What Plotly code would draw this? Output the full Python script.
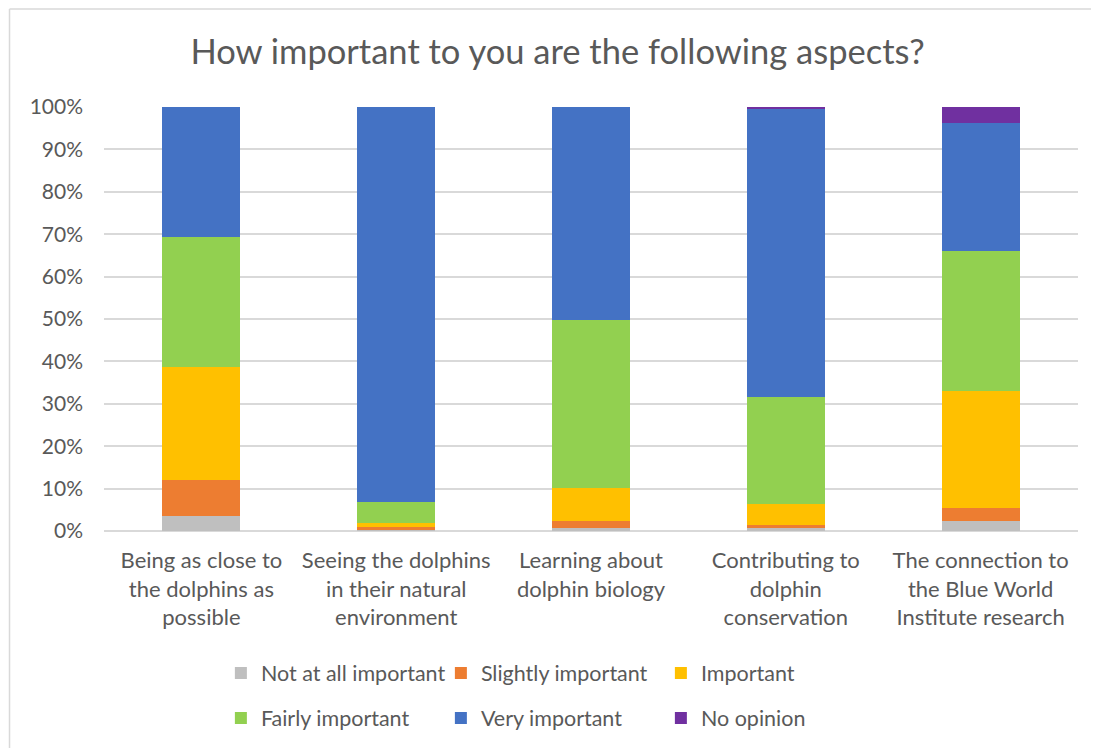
import plotly.graph_objects as go

categories = [
    "Being as close to<br>the dolphins as<br>possible",
    "Seeing the dolphins<br>in their natural<br>environment",
    "Learning about<br>dolphin biology",
    "Contributing to<br>dolphin<br>conservation",
    "The connection to<br>the Blue World<br>Institute research",
]

# shares in percent
not_at_all = [3.5, 0.2, 0.6, 0.7, 2.4]
slightly = [8.6, 0.8, 1.8, 0.8, 3.0]
important = [26.6, 1.0, 7.8, 4.9, 27.6]
fairly = [30.6, 4.8, 39.6, 25.2, 33.0]
very = [30.7, 93.2, 50.2, 68.0, 30.2]
no_opinion = [0.0, 0.0, 0.0, 0.4, 3.8]

series = [
    ("Not at all important", not_at_all, "#BFBFBF", "legend"),
    ("Slightly important", slightly, "#ED7D31", "legend"),
    ("Important", important, "#FFC000", "legend"),
    ("Fairly important", fairly, "#92D050", "legend2"),
    ("Very important", very, "#4472C4", "legend2"),
    ("No opinion", no_opinion, "#7030A0", "legend2"),
]

font_name = "Lato, 'Open Sans', sans-serif"
grey_txt = "#595959"

fig = go.Figure()
for name, vals, col, lg in series:
    fig.add_trace(go.Bar(
        x=categories, y=vals, name=name,
        marker=dict(color=col, line=dict(width=0)),
        legend=lg,
    ))

legend_style = dict(
    orientation="h", xanchor="left", yanchor="middle",
    font=dict(family=font_name, size=21.5, color=grey_txt),
    entrywidth=175, itemwidth=30, traceorder="normal",
    bgcolor="rgba(0,0,0,0)",
)

# page body adds an 8px offset, so margins are trimmed on the left/top
fig.update_layout(
    barmode="stack",
    bargap=0.6,
    width=1099, height=748,
    margin=dict(l=96, r=29, t=99, b=225),
    paper_bgcolor="white", plot_bgcolor="white",
    font=dict(family=font_name, color=grey_txt),
    title=dict(text="How important to you are the following aspects?",
               x=0.5, xanchor="center", y=0.941, yanchor="middle",
               font=dict(family=font_name, size=34.5, color=grey_txt)),
    xaxis=dict(showgrid=False, showline=False, ticks="",
               ticklabelstandoff=14,
               tickfont=dict(family=font_name, size=22, color=grey_txt)),
    yaxis=dict(range=[0, 100], dtick=10, ticksuffix="%",
               ticklabelstandoff=20,
               gridcolor="#D9D9D9", gridwidth=1.5, zeroline=True,
               zerolinecolor="#D9D9D9", zerolinewidth=1.5,
               tickfont=dict(family=font_name, size=21, color=grey_txt)),
    legend=dict(legend_style, x=0.120, y=-0.335),
    legend2=dict(legend_style, x=0.120, y=-0.441),
    shapes=[
        dict(type="line", xref="paper", yref="paper",
             x0=-0.097, x1=1.03, y0=1.231, y1=1.231,
             line=dict(color="#D9D9D9", width=1.5)),
        dict(type="line", xref="paper", yref="paper",
             x0=-0.097, x1=-0.097, y0=1.231, y1=-0.53,
             line=dict(color="#D9D9D9", width=1.5)),
    ],
)

fig.write_html("out.html")
